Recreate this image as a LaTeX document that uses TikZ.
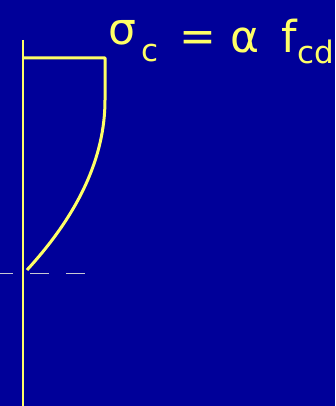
\documentclass[tikz,border=0pt]{standalone}
\usepackage{fontspec}
\setmainfont{DejaVu Sans}
\definecolor{bg}{RGB}{0,0,153}
\definecolor{yel}{RGB}{255,255,102}
\definecolor{dsh}{RGB}{200,200,210}
\begin{document}
\begin{tikzpicture}[x=1pt,y=-1pt,
  axis/.style={yel,line width=2pt},
  block/.style={yel,line width=3pt,line join=round},
  neutral/.style={dsh,line width=1pt,dash pattern=on 13pt off 17pt on 19pt off 17pt on 19pt off 100pt},
  lbl/.style={text=yel,inner sep=0pt,anchor=base west,font=\fontsize{44}{48}\selectfont},
  sub/.style={text=yel,inner sep=0pt,anchor=base west,font=\fontsize{31}{34}\selectfont}]
\fill[bg] (0,0) rectangle (335,406);
\useasboundingbox (0,0) rectangle (335,406);
\coordinate (axtop) at (23,40);
\coordinate (axbot) at (23,406);
\coordinate (tl) at (23,58);
\coordinate (tr) at (105,58);
\coordinate (v) at (105,100);
\coordinate (tip) at (27,270);
\coordinate (nl) at (0,273);
\coordinate (nr) at (85,273);
\draw[neutral] (nl) -- (nr);
\draw[axis] (axtop) -- (axbot);
\draw[block] (tl) -- (tr) -- (v) .. controls (105,156.7) and (79,213.3) .. (tip);
\node[lbl] (sig) at (108,45) {σ};
\node[sub] (c) at (141,62) {c};
\node[lbl] (eq) at (179,52) {=};
\node[lbl] (al) at (230,53) {α};
\node[lbl] (f) at (281,53) {f};
\node[sub] (cd) at (297,64) {cd};
\end{tikzpicture}
\end{document}
